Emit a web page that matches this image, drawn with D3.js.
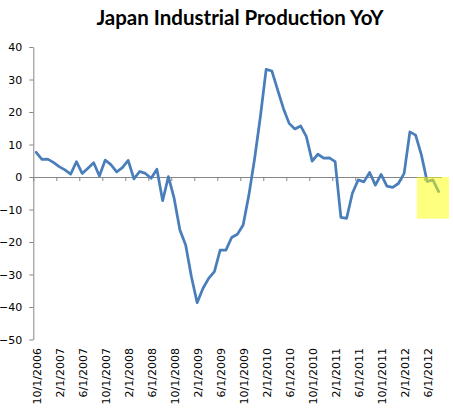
<!DOCTYPE html>
<html>
<head>
<meta charset="utf-8">
<script src="https://unpkg.com/d3@7/dist/d3.min.js"></script>
<style>
  body { margin: 0; background: #fff; }
  .tick text { font-family: "DejaVu Sans"; font-size: 11px; }
</style>
</head>
<body>
<div id="wrapper"></div>
<script>
// monthly categories, 10/2006 .. 8/2012
const months = [
  "10/1/2006","11/1/2006","12/1/2006",
  "1/1/2007","2/1/2007","3/1/2007","4/1/2007","5/1/2007","6/1/2007","7/1/2007","8/1/2007","9/1/2007","10/1/2007","11/1/2007","12/1/2007",
  "1/1/2008","2/1/2008","3/1/2008","4/1/2008","5/1/2008","6/1/2008","7/1/2008","8/1/2008","9/1/2008","10/1/2008","11/1/2008","12/1/2008",
  "1/1/2009","2/1/2009","3/1/2009","4/1/2009","5/1/2009","6/1/2009","7/1/2009","8/1/2009","9/1/2009","10/1/2009","11/1/2009","12/1/2009",
  "1/1/2010","2/1/2010","3/1/2010","4/1/2010","5/1/2010","6/1/2010","7/1/2010","8/1/2010","9/1/2010","10/1/2010","11/1/2010","12/1/2010",
  "1/1/2011","2/1/2011","3/1/2011","4/1/2011","5/1/2011","6/1/2011","7/1/2011","8/1/2011","9/1/2011","10/1/2011","11/1/2011","12/1/2011",
  "1/1/2012","2/1/2012","3/1/2012","4/1/2012","5/1/2012","6/1/2012","7/1/2012","8/1/2012"
]

const yoy = [
  7.6, 5.4, 5.5,
  4.5, 3.2, 2.2, 0.9, 4.7, 1.1, 2.7, 4.4, 0.3, 5.2, 3.8, 1.6,
  2.9, 5.1, -0.6, 1.7, 1.1, -0.4, 2.4, -7.3, 0.1, -6.6, -16.3, -20.9,
  -30.7, -38.7, -34.3, -31.2, -29.1, -22.5, -22.5, -18.6, -17.6, -14.8, -5.5, 5.7,
  18.6, 33.1, 32.6, 26.8, 21.1, 16.5, 14.8, 15.7, 12.4, 4.9, 7.0, 5.8,
  5.9, 4.7, -12.4, -12.7, -5.0, -0.9, -1.5, 1.4, -2.5, 0.8, -2.8, -3.2,
  -2.0, 1.1, 13.9, 12.9, 6.8, -1.4, -0.9, -4.5
]

const yTicks = [40, 30, 20, 10, 0, -10, -20, -30, -40, -50]

// label every 4th month
const labelEvery = 4

// highlighted box (category index units, y units)
const highlightX = [66.7, 72.3]
const highlightY = [0, -12.8]

const titleText = "Japan Industrial Production YoY"

let dimensions = {
  width: 453,
  height: 414,
  margins: { top: 47, right: 11.5, bottom: 74.5, left: 33.3 }
}
dimensions.boundedWidth = dimensions.width - dimensions.margins.left - dimensions.margins.right
dimensions.boundedHeight = dimensions.height - dimensions.margins.top - dimensions.margins.bottom

const axisColor = "#868686"
const tickFont = "DejaVu Sans"

const wrapper = d3.select("#wrapper")
  .append("svg")
    .attr("width", dimensions.width)
    .attr("height", dimensions.height)

wrapper.append("text")
    .attr("x", 240)
    .attr("y", 25)
    .attr("text-anchor", "middle")
    .attr("font-family", "Lato")
    .attr("font-weight", "bold")
    .attr("font-size", 20.5)
    .text(titleText)

const bounds = wrapper.append("g")
    .attr("transform", `translate(${dimensions.margins.left},${dimensions.margins.top})`)

const yScale = d3.scaleLinear()
  .domain([-50, 40])
  .range([dimensions.boundedHeight, 0])

// continuous index scale; category i sits at the middle of [i, i+1]
const xScale = d3.scaleLinear()
  .domain([0, months.length])
  .range([0, dimensions.boundedWidth])

// y axis
const yAxis = bounds.append("g")
  .call(d3.axisLeft(yScale).tickValues(yTicks).tickSize(4).tickPadding(7).tickSizeOuter(0))
    .attr("font-family", tickFont)
    .attr("font-size", 11)
yAxis.select(".domain").attr("stroke", axisColor)
yAxis.selectAll(".tick line").attr("stroke", axisColor)
yAxis.selectAll("text").attr("fill", "#000")

// x axis line crossing at zero, tick marks between category groups
const tickIdx = d3.range(0, months.length, labelEvery)
const xAxis = bounds.append("g")
    .attr("transform", `translate(0,${yScale(0)})`)
  .call(d3.axisBottom(xScale).tickValues(tickIdx).tickFormat("").tickSize(4).tickSizeOuter(0))
xAxis.select(".domain").attr("stroke", axisColor)
xAxis.selectAll(".tick line").attr("stroke", axisColor)

// rotated category labels along the bottom
const labelAxis = bounds.append("g")
    .attr("transform", `translate(0,${dimensions.boundedHeight + 8.5})`)
  .call(d3.axisBottom(xScale)
    .tickValues(tickIdx.map(i => i + 0.5))
    .tickFormat(d => months[Math.floor(d)])
    .tickSize(0))
    .attr("font-family", tickFont)
    .attr("font-size", 11)
labelAxis.select(".domain").remove()
labelAxis.selectAll("text")
    .attr("transform", "rotate(-90)")
    .attr("text-anchor", "end")
    .attr("x", 0)
    .attr("y", 0)
    .attr("dy", "0.36em")
    .attr("fill", "#000")

// data line
const lineGenerator = d3.line()
    .x((d, i) => xScale(i + 0.5))
    .y(d => yScale(d))

bounds.append("path")
    .attr("d", lineGenerator(yoy))
    .attr("fill", "none")
    .attr("stroke", "#4a7ebb")
    .attr("stroke-width", 2.75)
    .attr("stroke-linejoin", "round")
    .attr("stroke-linecap", "round")

// yellow highlight on top
bounds.append("rect")
    .attr("x", xScale(highlightX[0]))
    .attr("width", xScale(highlightX[1]) - xScale(highlightX[0]))
    .attr("y", yScale(highlightY[0]))
    .attr("height", yScale(highlightY[1]) - yScale(highlightY[0]))
    .attr("fill", "#ffff00")
    .attr("fill-opacity", 0.5)
</script>
</body>
</html>
